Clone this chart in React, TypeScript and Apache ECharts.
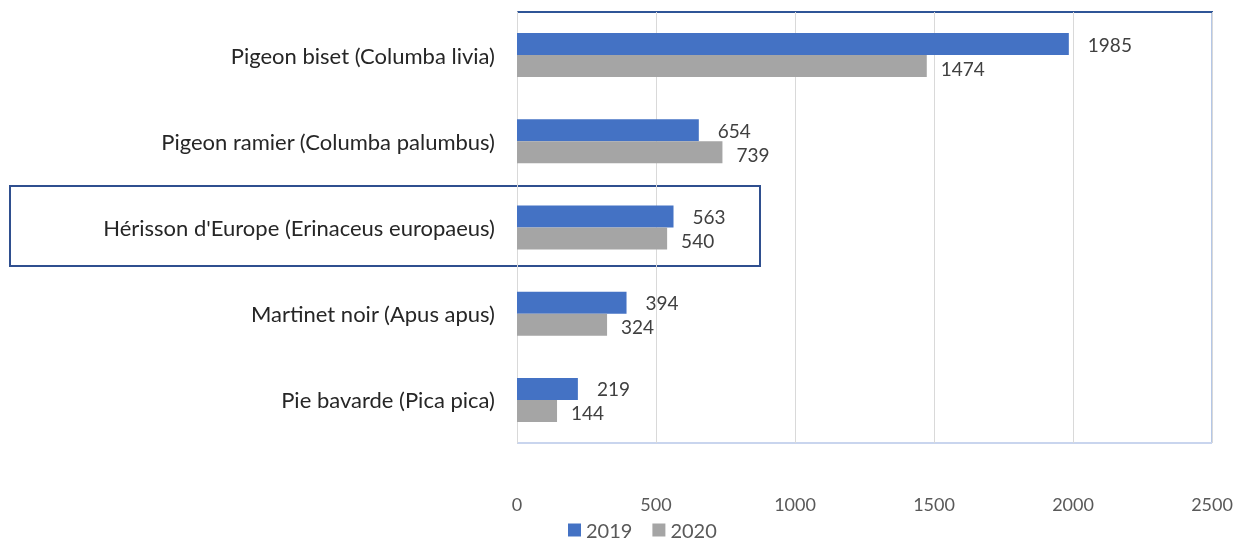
import React, { useEffect, useRef } from "react";
import * as echarts from "echarts";

const categories = [
  "Pigeon biset (Columba livia)",
  "Pigeon ramier (Columba palumbus)",
  "Hérisson d'Europe (Erinaceus europaeus)",
  "Martinet noir (Apus apus)",
  "Pie bavarde (Pica pica)",
];
const values2019 = [1985, 654, 563, 394, 219];
const values2020 = [1474, 739, 540, 324, 144];
const seriesNames = ["2019", "2020"];

const FONT = "Lato, 'Open Sans', sans-serif";

export default function App() {
  const ref = useRef<HTMLDivElement>(null);
  useEffect(() => {
    if (!ref.current) return;
    const chart = echarts.init(ref.current, null, { renderer: "svg" });
    const L = 517, R = 1212, T = 12, B = 443;
    chart.setOption({
      animation: false,
      textStyle: { fontFamily: FONT },
      grid: { left: L, right: 1239 - R, top: T, bottom: 545 - B, containLabel: false },
      xAxis: {
        type: "value",
        min: 0,
        max: 2500,
        interval: 500,
        axisLine: { show: false },
        axisTick: { show: false },
        splitLine: { show: true, lineStyle: { color: "#D9D9D9", width: 1 } },
        axisLabel: {
          color: "#595959",
          fontSize: 18,
          fontFamily: FONT,
          margin: 52,
          formatter: (v: number) => String(v),
        },
      },
      yAxis: {
        type: "category",
        data: categories,
        inverse: true,
        axisLine: { show: true, lineStyle: { color: "#D9D9D9" } },
        axisTick: { show: false },
        axisLabel: { color: "#262626", fontSize: 22, fontFamily: FONT, margin: 22 },
      },
      legend: {
        top: 519,
        left: 563,
        padding: [0, 5, 0, 5],
        itemWidth: 13,
        itemHeight: 13,
        itemGap: 20,
        icon: "rect",
        textStyle: { color: "#595959", fontSize: 20, fontFamily: FONT, lineHeight: 22 },
        data: seriesNames,
      },
      series: [
        {
          name: seriesNames[0],
          type: "bar",
          data: values2019,
          barWidth: 22,
          barGap: "0%",
          itemStyle: { color: "#4472C4" },
          label: { show: true, position: "right", distance: 19, color: "#404040", fontSize: 19, fontFamily: FONT, offset: [0, 0] },
        },
        {
          name: seriesNames[1],
          type: "bar",
          data: values2020,
          barWidth: 22,
          barGap: "0%",
          itemStyle: { color: "#A5A5A5" },
          label: { show: true, position: "right", distance: 14, color: "#404040", fontSize: 19, fontFamily: FONT, offset: [0, 2] },
        },
      ],
      graphic: [
        { type: "line", shape: { x1: R, y1: T, x2: R, y2: B }, style: { stroke: "#B4C7E7", lineWidth: 2 } },
        { type: "line", shape: { x1: L, y1: B, x2: R, y2: B }, style: { stroke: "#C9D5EE", lineWidth: 2 } },
        { type: "line", shape: { x1: L, y1: T, x2: R + 1, y2: T }, style: { stroke: "#2F5597", lineWidth: 2 } },
        { type: "rect", shape: { x: 10, y: 186, width: 750, height: 80 }, style: { fill: "none", stroke: "#2F4F8F", lineWidth: 2 } },
      ],
    });
    return () => chart.dispose();
  }, []);
  return <div ref={ref} style={{ position: "fixed", left: 0, top: 0, width: 1239, height: 545 }} />;
}
